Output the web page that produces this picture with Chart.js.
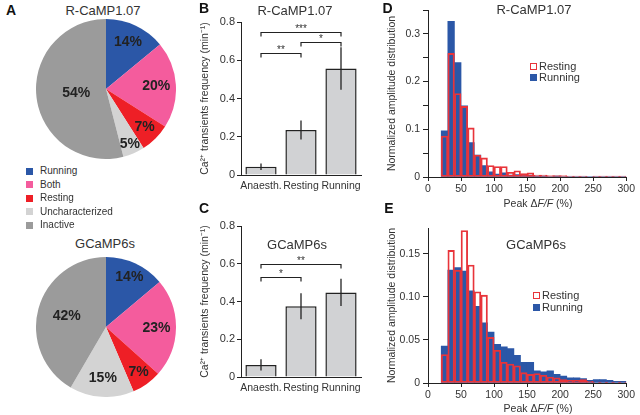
<!DOCTYPE html>
<html>
<head>
<meta charset="utf-8">
<script src="https://cdn.jsdelivr.net/npm/chart.js@4.4.1/dist/chart.umd.min.js"></script>
<style>
body { margin: 0; background: #fff; font-family: 'Liberation Sans', Arial, sans-serif; color: #333; }
#fig { position: relative; width: 640px; height: 415px; overflow: hidden; }
canvas { position: absolute; }
.t { position: absolute; white-space: nowrap; line-height: 1; transform: translate(-50%, -50%); }
.letter { font-weight: bold; font-size: 14px; color: #111; }
.title { font-size: 13px; color: #333; }
.xt { font-size: 10.5px; color: #333; }
.box { position: absolute; box-sizing: border-box; }
.lg { position: absolute; white-space: nowrap; line-height: 1; transform: translateY(-50%); color: #333; }
</style>
</head>
<body>
<div id="fig">
  <canvas id="pieA" width="140" height="140" style="left:36px;top:19px"></canvas>
  <canvas id="pieG" width="140" height="140" style="left:36px;top:257px"></canvas>
  <canvas id="barB" width="168" height="200" style="left:199px;top:0px"></canvas>
  <canvas id="barC" width="168" height="215" style="left:199px;top:200px"></canvas>
  <canvas id="histD" width="251" height="210" style="left:386px;top:0px"></canvas>
  <canvas id="histE" width="251" height="215" style="left:386px;top:200px"></canvas>
</div>
<script>
// pie data (percent of cells)
const pieCategories = ["Running", "Both", "Resting", "Uncharacterized", "Inactive"];
const pieColors = ["#2b57a7", "#f45c9d", "#ee1f26", "#d3d3d3", "#9b9b9b"];
const pieRCaMP = [14, 20, 7, 5, 54];
const pieGCaMP = [14, 23, 7, 15, 42];

// Ca2+ transient frequency (min^-1)
const conditions = ["Anaesth.", "Resting", "Running"];
const freqRCaMP = [0.043, 0.235, 0.557];
const errRCaMP = [0.017, 0.05, 0.111];
const freqGCaMP = [0.064, 0.375, 0.448];
const errGCaMP = [0.03, 0.069, 0.072];
const freqTicks = [0, 0.2, 0.4, 0.6, 0.8];
const freqTickLabels = ["0", "0.2", "0.4", "0.6", "0.8"];

// significance brackets
const sigFromRCaMP = [0, 0, 1];
const sigToRCaMP = [2, 1, 2];
const sigLevelRCaMP = [0.749, 0.64, 0.695];
const sigMarkRCaMP = ["***", "**", "*"];
const sigFromGCaMP = [0, 0];
const sigToGCaMP = [2, 1];
const sigLevelGCaMP = [0.599, 0.528];
const sigMarkGCaMP = ["**", "*"];

// amplitude histograms, bins of 10 % from 20 to 300
const binCenters = [25, 35, 45, 55, 65, 75, 85, 95, 105, 115, 125, 135, 145, 155,
  165, 175, 185, 195, 205, 215, 225, 235, 245, 255, 265, 275, 285, 295];
const seriesNames = ["Resting", "Running"];
const restingRCaMP = [0.086, 0.259, 0.175, 0.148, 0.103, 0.046, 0.04, 0.024, 0.022, 0.022, 0.01, 0.013, 0.007, 0.009,
  0.004, 0.004, 0.003, 0.003, 0.003, 0.002, 0.002, 0.002, 0.001, 0.002, 0.002, 0.002, 0.002, 0.002];
const runningRCaMP = [0.097, 0.326, 0.24, 0.149, 0.072, 0.046, 0.024, 0.011, 0.006, 0.009, 0.004, 0.005, 0.003, 0.004,
  0.002, 0.002, 0.001, 0.002, 0.001, 0.001, 0.001, 0.001, 0.001, 0.001, 0.001, 0.001, 0.001, 0.001];
const restingGCaMP = [0.033, 0.154, 0.131, 0.177, 0.137, 0.106, 0.102, 0.053, 0.038, 0.024, 0.022, 0.02, 0.012, 0.01,
  0.011, 0.009, 0.007, 0.006, 0.004, 0.003, 0.003, 0.004, 0.002, 0.001, 0.001, 0.001, 0.001, 0.001];
const runningGCaMP = [0.043, 0.131, 0.134, 0.13, 0.107, 0.089, 0.07, 0.059, 0.045, 0.042, 0.04, 0.032, 0.024, 0.024,
  0.014, 0.013, 0.014, 0.01, 0.008, 0.006, 0.006, 0.005, 0.003, 0.004, 0.004, 0.003, 0.002, 0.002];
const ampTicks = [0, 50, 100, 150, 200, 250, 300];
const distTicksD = [0, 0.05, 0.1, 0.15, 0.2, 0.25, 0.3, 0.35];
const distLabelsD = ["0", "", "0.1", "", "0.2", "", "0.3", ""];
const distTicksE = [0, 0.05, 0.1, 0.15];
const distLabelsE = ["0", "0.05", "0.10", "0.15"];

const FONT = "'Liberation Sans', Arial, sans-serif";
Chart.defaults.font.family = FONT;
Chart.defaults.color = "#333";
Chart.defaults.animation = false;
Chart.defaults.plugins.legend.display = false;
Chart.defaults.plugins.tooltip.enabled = false;

const fig = document.getElementById("fig");

function addText(html, x, y, cls) {
    let d = document.createElement("div");
    d.className = "t " + cls;
    d.innerHTML = html;
    d.style.left = x + "px";
    d.style.top = y + "px";
    fig.appendChild(d);
}

function addLegend(x, y, step, gap, size, items) {
    items.forEach((it, i) => {
        let b = document.createElement("div");
        b.className = "box";
        b.style.cssText = `left:${x}px;top:${y + i * step - 3.5}px;width:7px;height:7px;background:${it.fill};` +
            (it.stroke ? `border:1.5px solid ${it.stroke};` : "");
        fig.appendChild(b);
        let t = document.createElement("div");
        t.className = "lg";
        t.style.cssText = `left:${x + gap}px;top:${y + i * step}px;font-size:${size}px`;
        t.textContent = it.label;
        fig.appendChild(t);
    });
}

// percent labels inside the pie slices
const pieLabels = {
    id: "pieLabels",
    afterDatasetsDraw(chart, args, opts) {
        let ctx = chart.ctx;
        let data = chart.data.datasets[0].data;
        ctx.save();
        ctx.font = "bold 14px " + FONT;
        ctx.fillStyle = "#222";
        ctx.textAlign = "center";
        ctx.textBaseline = "middle";
        chart.getDatasetMeta(0).data.forEach((arc, i) => {
            let mid = (arc.startAngle + arc.endAngle) / 2;
            let r = arc.outerRadius * opts.radius[i];
            ctx.fillText(data[i] + "%", arc.x + Math.cos(mid) * r, arc.y + Math.sin(mid) * r);
        });
        ctx.restore();
    }
};

// error bars and significance brackets
const errorBars = {
    id: "errorBars",
    afterDatasetsDraw(chart, args, opts) {
        let ctx = chart.ctx;
        let y = chart.scales.y;
        let meta = chart.getDatasetMeta(0);
        let vals = chart.data.datasets[0].data;
        ctx.save();
        ctx.strokeStyle = "#222";
        ctx.lineWidth = 1.3;
        opts.errors.forEach((e, i) => {
            let px = meta.data[i].x;
            ctx.beginPath();
            ctx.moveTo(px, y.getPixelForValue(vals[i] - e));
            ctx.lineTo(px, y.getPixelForValue(vals[i] + e));
            ctx.stroke();
        });
        ctx.lineWidth = 1.2;
        ctx.font = "10px " + FONT;
        ctx.fillStyle = "#333";
        ctx.textAlign = "center";
        ctx.textBaseline = "alphabetic";
        opts.from.forEach((a, k) => {
            let x1 = meta.data[a].x;
            let x2 = meta.data[opts.to[k]].x;
            let py = Math.round(y.getPixelForValue(opts.level[k])) + 0.5;
            ctx.beginPath();
            ctx.moveTo(x1, py + 4);
            ctx.lineTo(x1, py);
            ctx.lineTo(x2, py);
            ctx.lineTo(x2, py + 4);
            ctx.stroke();
            ctx.fillText(opts.marks[k], (x1 + x2) / 2, py - 1);
        });
        ctx.restore();
    }
};

function pieChart(id, values, radii) {
    return new Chart(document.getElementById(id), {
        type: "pie",
        data: {
            labels: pieCategories,
            datasets: [{ data: values, backgroundColor: pieColors, borderWidth: 0 }]
        },
        options: {
            responsive: false,
            devicePixelRatio: 1,
            layout: { padding: 0 },
            plugins: { pieLabels: { radius: radii } }
        },
        plugins: [pieLabels]
    });
}

function freqChart(id, values, errors, from, to, level, marks, padTop, xHeight) {
    return new Chart(document.getElementById(id), {
        type: "bar",
        data: {
            labels: conditions,
            datasets: [{
                data: values,
                backgroundColor: "#d1d2d4",
                borderColor: "#222",
                borderWidth: 1.5,
                categoryPercentage: 1,
                barPercentage: 0.78
            }]
        },
        options: {
            responsive: false,
            devicePixelRatio: 1,
            layout: { padding: { top: padTop, right: 6, left: 0, bottom: 0 } },
            scales: {
                x: {
                    grid: { display: false, drawTicks: false },
                    border: { display: true, color: "#222", width: 1 },
                    ticks: { autoSkip: false, maxRotation: 0, minRotation: 0, padding: 5, font: { size: 10.5 }, color: "#333" },
                    afterFit: s => { s.height = xHeight; }
                },
                y: {
                    min: 0,
                    max: 0.8,
                    afterBuildTicks: s => { s.ticks = freqTicks.map(v => ({ value: v })); },
                    ticks: { callback: (v, i) => freqTickLabels[i], padding: 2, font: { size: 11 }, color: "#333" },
                    grid: { drawOnChartArea: false, tickLength: 4, color: "#222" },
                    border: { color: "#222", width: 1 },
                    title: { display: true, text: "Ca²⁺ transients frequency (min⁻¹)", padding: 0, font: { size: 10.5 }, color: "#333" },
                    afterFit: s => { s.width = 42; }
                }
            },
            plugins: { errorBars: { errors, from, to, level, marks } }
        },
        plugins: [errorBars]
    });
}

function histChart(id, resting, running, yMax, yTicks, yLabels, padTop, xHeight) {
    return new Chart(document.getElementById(id), {
        type: "bar",
        data: {
            datasets: [
                {
                    label: seriesNames[0],
                    data: binCenters.map((x, i) => ({ x, y: resting[i] })),
                    backgroundColor: "rgba(0,0,0,0)",
                    borderColor: "#e8343a",
                    borderWidth: 1.2,
                    borderSkipped: false
                },
                {
                    label: seriesNames[1],
                    data: binCenters.map((x, i) => ({ x, y: running[i] })),
                    backgroundColor: "#2b57a7",
                    borderWidth: 0
                }
            ]
        },
        options: {
            responsive: false,
            devicePixelRatio: 1,
            grouped: false,
            categoryPercentage: 1,
            barPercentage: 1,
            layout: { padding: { top: padTop, right: 10, left: 0, bottom: 0 } },
            scales: {
                x: {
                    type: "linear",
                    min: 0,
                    max: 300,
                    offset: false,
                    afterBuildTicks: s => { s.ticks = ampTicks.map(v => ({ value: v })); },
                    grid: { offset: false, drawOnChartArea: false, tickLength: 4, color: "#222" },
                    border: { color: "#222", width: 1 },
                    ticks: { padding: 2, maxRotation: 0, font: { size: 10.5 }, color: "#333" },
                    afterFit: s => { s.height = xHeight; }
                },
                y: {
                    min: 0,
                    max: yMax,
                    afterBuildTicks: s => { s.ticks = yTicks.map(v => ({ value: v })); },
                    ticks: { callback: (v, i) => yLabels[i], padding: 3, font: { size: 10.5 }, color: "#333" },
                    grid: { drawOnChartArea: false, tickLength: 5, color: "#222" },
                    border: { color: "#222", width: 1 },
                    title: { display: true, text: "Normalized amplitude distribution", padding: 0, font: { size: 10.5 }, color: "#333" },
                    afterFit: s => { s.width = 42; }
                }
            }
        }
    });
}

pieChart("pieA", pieRCaMP, [0.74, 0.72, 0.78, 0.86, 0.43]);
pieChart("pieG", pieGCaMP, [0.79, 0.72, 0.8, 0.73, 0.58]);
freqChart("barB", freqRCaMP, errRCaMP, sigFromRCaMP, sigToRCaMP, sigLevelRCaMP, sigMarkRCaMP, 22, 25);
freqChart("barC", freqGCaMP, errGCaMP, sigFromGCaMP, sigToGCaMP, sigLevelGCaMP, sigMarkGCaMP, 26, 38);
histChart("histD", restingRCaMP, runningRCaMP, 0.35, distTicksD, distLabelsD, 10, 33);
histChart("histE", restingGCaMP, runningGCaMP, 0.18, distTicksE, distLabelsE, 28, 32);

// panel letters and titles
addText("A", 11, 9.5, "letter");
addText("B", 204, 8, "letter");
addText("C", 204, 207.5, "letter");
addText("D", 387.5, 8, "letter");
addText("E", 389, 208, "letter");
addText("R-CaMP1.07", 103, 9.5, "title");
addText("GCaMP6s", 105, 243, "title");
addText("R-CaMP1.07", 295, 10, "title");
addText("GCaMP6s", 297, 244, "title");
addText("R-CaMP1.07", 534, 9, "title");
addText("GCaMP6s", 536, 244, "title");
addText("Peak Δ<i>F/F</i> (%)", 538, 203, "xt");
addText("Peak Δ<i>F/F</i> (%)", 538, 408, "xt");

// legends
addLegend(26, 171, 13.5, 14, 10, pieCategories.map((c, i) => ({ label: c, fill: pieColors[i] })));
const histLegend = [
    { label: seriesNames[0], fill: "#fff", stroke: "#e8343a" },
    { label: seriesNames[1], fill: "#2b57a7" }
];
addLegend(530, 66, 11, 9, 11, histLegend);
addLegend(533, 295, 12, 9, 11, histLegend);
</script>
</body>
</html>
